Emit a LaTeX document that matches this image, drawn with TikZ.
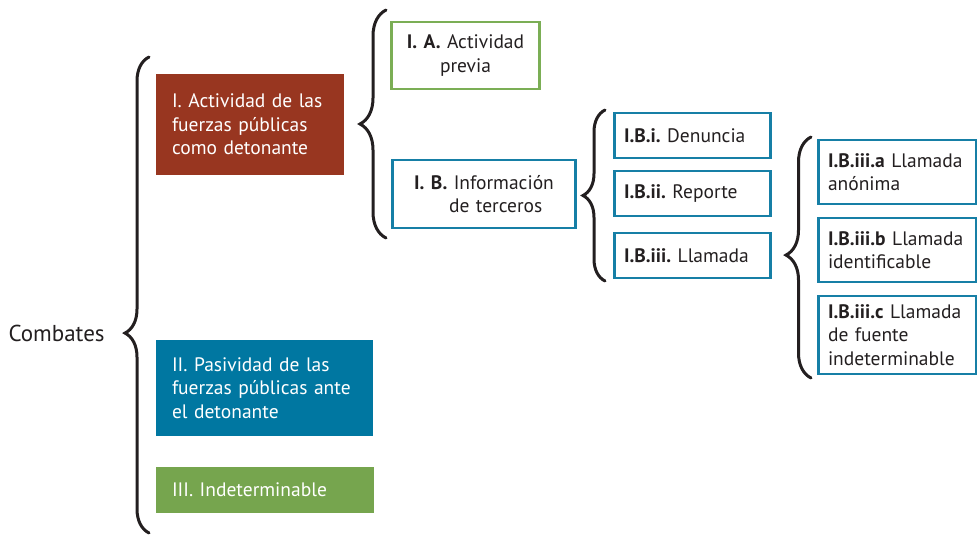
\documentclass[tikz,border=0pt]{standalone}
\usepackage{fontspec}
\setmainfont{PT Sans}[WordSpace=0.9]
\usetikzlibrary{decorations.pathreplacing}
\definecolor{rojizo}{HTML}{983620}
\definecolor{azulfondo}{HTML}{0077A1}
\definecolor{verdefondo}{HTML}{76A54E}
\definecolor{verdeborde}{HTML}{7BAE55}
\definecolor{azulborde}{HTML}{167FA6}
\definecolor{llavegris}{HTML}{231F20}
\frenchspacing

\begin{document}
\begin{tikzpicture}[x=1pt,y=-1pt,
 texto/.style={font=\fontsize{19.5}{23.5}\selectfont, text=llavegris},
 lleno/.style={texto, text=white, inner xsep=16, inner ysep=0, align=left},
 marco/.style={texto, draw=azulborde, line width=2.6, inner xsep=9.5, inner ysep=0, align=left},
 llave/.style={llavegris, line width=3, line cap=round, decorate}]
\useasboundingbox (0,0) rectangle (977,538);

% nivel 1
\node[texto, font=\fontsize{23}{26}\selectfont, anchor=west] (comb) at (5,333) {Combates};
\node[lleno, fill=rojizo, text width=156, minimum height=101] (act) at (250,124.5) {I. Actividad de las\\fuerzas públicas\\como detonante};
\node[lleno, fill=azulfondo, text width=185, minimum height=96] (pas) at (264.5,388) {II. Pasividad de las\\fuerzas públicas ante\\el detonante};
\node[lleno, fill=verdefondo, text width=186, minimum height=46] (ind) at (265,490) {III. Indeterminable};

% nivel 2
\node[marco, draw=verdeborde, align=center, text width=129, minimum height=67] (prev) at (465.5,55.5) {\textbf{I. A.} Actividad\\previa};
\node[marco, align=center, text width=164, minimum height=68] (terc) at (484,194) {\textbf{I. B.} Información\\\hspace*{1.2em}de terceros};

% nivel 3
\node[marco, text width=137, minimum height=45] (den) at (692.5,135.5) {\textbf{I.B.i.} Denuncia};
\node[marco, text width=137, minimum height=45] (rep) at (692.5,193.5) {\textbf{I.B.ii.} Reporte};
\node[marco, text width=137, minimum height=45] (llam) at (692.5,255.5) {\textbf{I.B.iii.} Llamada};

% nivel 4
\node[marco, text width=139, minimum height=64] (anon) at (897.5,172) {\textbf{I.B.iii.a} Llamada\\anónima};
\node[marco, text width=139, minimum height=64] (iden) at (897.5,250) {\textbf{I.B.iii.b} Llamada\\identificable};
\node[marco, text width=139, minimum height=78] (fuen) at (897.5,335) {\textbf{I.B.iii.c} Llamada\\de fuente\\indeterminable};

% llaves
\coordinate (l1a) at (149,533); \coordinate (l1b) at (149,57);
\coordinate (l2a) at (386,238); \coordinate (l2b) at (386,10);
\coordinate (l3a) at (605,281); \coordinate (l3b) at (605,110);
\coordinate (l4a) at (811,378); \coordinate (l4b) at (811,137);
\draw[llave, decoration={brace, amplitude=24, aspect=0.42}] (l1a) -- (l1b);
\draw[llave, decoration={brace, amplitude=26}] (l2a) -- (l2b);
\draw[llave, decoration={brace, amplitude=22}] (l3a) -- (l3b);
\draw[llave, decoration={brace, amplitude=25, aspect=0.51}] (l4a) -- (l4b);
\end{tikzpicture}
\end{document}
